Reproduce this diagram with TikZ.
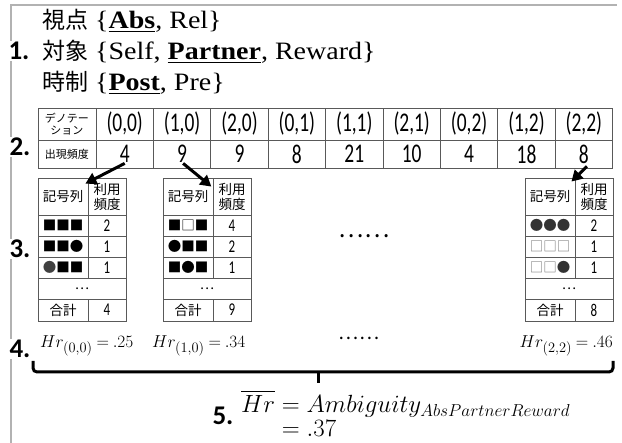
\documentclass[tikz,border=0pt]{standalone}
\usepackage{amsmath}
\usepackage{fontspec}
\setmainfont{Liberation Serif}
\newfontfamily\catfont[FakeStretch=1.12]{Liberation Serif}
\newfontfamily\jpfont{Noto Sans CJK JP}
\newfontfamily\numfont[FakeStretch=0.72]{Carlito}
\newfontfamily\labfont{Carlito}
\usetikzlibrary{calc}
\usetikzlibrary{arrows.meta}
\tikzset{
  cellbox/.style={draw=black!65, line width=0.8pt, inner sep=0pt, align=center,
    font=\jpfont\fontsize{13.5}{15}\selectfont},
  headsmall/.style={font=\jpfont\fontsize{11}{12.5}\selectfont},
  coltext/.style={font=\numfont\fontsize{27}{27}\selectfont},
  valtext/.style={font=\numfont\fontsize{27}{27}\selectfont},
  cntfont/.style={font=\numfont\fontsize{18}{18}\selectfont},
  steplabel/.style={font=\labfont\bfseries\fontsize{27}{27}\selectfont, fill=white, inner sep=1pt},
  catline/.style={anchor=west, inner sep=0pt, font=\catfont\fontsize{25}{28}\selectfont},
  hrtext/.style={inner sep=0pt, font=\fontsize{19}{19}\selectfont},
  pick/.style={line width=3pt, -{Triangle[length=11pt,width=12pt]}},
  bracket/.style={line width=3pt, rounded corners=4pt},
  frameline/.style={draw=black!30, line width=1.2pt},
}
\newcommand{\tcell}[7][]{\node[cellbox, #1, minimum width={(#5)-(#3)}, minimum height={(#6)-(#4)}] (#2) at ({((#3)+(#5))/2}, {((#4)+(#6))/2}) {#7};}
\newcommand{\jp}[1]{{\jpfont\fontsize{23}{28}\selectfont #1}}
\newcommand{\symtable}[9]{%
  \tcell{#1h1}{#2}{178}{#2+50}{215}{記号列}
  \tcell{#1h2}{#2+50}{178}{#2+88}{215}{利用\\頻度}
  \tcell{#1r1}{#2}{215}{#2+50}{236}{#3}
  \tcell[cntfont]{#1n1}{#2+50}{215}{#2+88}{236}{#4}
  \tcell{#1r2}{#2}{236}{#2+50}{257}{#5}
  \tcell[cntfont]{#1n2}{#2+50}{236}{#2+88}{257}{#6}
  \tcell{#1r3}{#2}{257}{#2+50}{278}{#7}
  \tcell[cntfont]{#1n3}{#2+50}{257}{#2+88}{278}{#8}
  \tcell{#1dt}{#2}{278}{#2+88}{299}{…}
  \tcell{#1s}{#2}{299}{#2+50}{321}{合計}
  \tcell[cntfont]{#1sn}{#2+50}{299}{#2+88}{321}{#9}
}

\begin{document}
\begin{tikzpicture}[x=1pt,y=-1pt]
  \useasboundingbox (0,0) rectangle (622,443);
  % frame
  \draw[frameline] (11,443) -- (11,5) -- (617,5);

  % step 1
  \node[catline] (view) at (42,21) {\jp{視点} \{\underline{\textbf{Abs}}, Rel\}};
  \node[catline] (target) at (42,52) {\jp{対象} \{Self, \underline{\textbf{Partner}}, Reward\}};
  \node[catline] (tense) at (42,83) {\jp{時制} \{\underline{\textbf{Post}}, Pre\}};
  \node[steplabel] (s1) at (19,51) {1.};

  % step 2
  \node[steplabel] (s2) at (20,147) {2.};
  \tcell[headsmall]{dh}{38}{108}{96}{140}{デノテー\\ション}
  \tcell[headsmall]{fh}{38}{140}{96}{168}{出現頻度}
  \foreach \lab [count=\i] in {{(0,0)},{(1,0)},{(2,0)},{(0,1)},{(1,1)},{(2,1)},{(0,2)},{(1,2)},{(2,2)}}
    \tcell[coltext]{d\i}{96+(\i-1)*57.4}{108}{96+\i*57.4}{140}{\lab};
  \foreach \val [count=\i] in {4,9,9,8,21,10,4,18,8}
    \tcell[valtext]{v\i}{96+(\i-1)*57.4}{140}{96+\i*57.4}{168}{\val};

  % step 3
  \node[steplabel] (s3) at (20,249) {3.};
  \symtable{a}{38}{■■■}{2}{■■●}{1}{\textcolor{black!75}{●}■■}{1}{4}
  \symtable{b}{163}{■□■}{4}{●■■}{2}{■●■}{1}{9}
  \symtable{c}{525}{\textcolor{black!80}{●●●}}{2}{\textcolor{black!55}{□□□}}{1}{\textcolor{black!55}{□□}\textcolor{black!80}{●}}{1}{8}
  \node[font=\jpfont\fontsize{24}{24}\selectfont] (more3) at (364,236) {……};

  \draw[pick] ([yshift=5pt]v1.south) -- ([xshift=-3pt,yshift=-6pt]ah1.north east);
  \draw[pick] ([xshift=1pt,yshift=5pt]v2.south) -- ([xshift=-2pt,yshift=-9pt]bh1.north east);
  \draw[pick] ([xshift=3pt,yshift=2pt]v9.south) -- ([xshift=-4pt,yshift=-4pt]ch1.north east);

  % step 4
  \node[steplabel] (s4) at (20,349) {4.};
  \node[hrtext, anchor=base west] (hr1) at (40,348) {$\thickmuskip=4mu Hr_{(0,0)} = .25$};
  \node[hrtext, anchor=base west] (hr2) at (152,348) {$\thickmuskip=4mu Hr_{(1,0)} = .34$};
  \node[hrtext, anchor=base east] (hr9) at (613,348) {$\thickmuskip=4mu Hr_{(2,2)} = .46$};
  \node[font=\jpfont\fontsize{19}{19}\selectfont] (more4) at (359,338) {……};
  \draw[bracket] (33,361) -- (33,372) -- (613,372) -- (613,361);
  \draw[line width=3pt] (318,372) -- (318,383);

  % step 5
  \node[steplabel] (s5) at (223,416) {5.};
  \node[anchor=west, inner sep=0pt, font=\fontsize{24}{24}\selectfont] (amb) at (241,417)
    {$\begin{aligned} \overline{Hr} &= Ambiguity_{AbsPartnerReward}\\[-3pt] &= .37\end{aligned}$};
\end{tikzpicture}
\end{document}
